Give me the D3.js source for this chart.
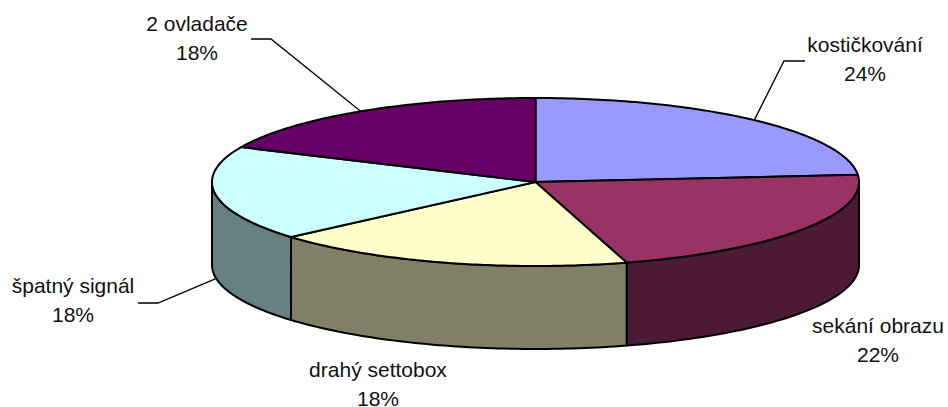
<!DOCTYPE html>
<html>
<head>
<meta charset="utf-8">
<script src="https://cdn.jsdelivr.net/npm/d3@7"></script>
<style>
  html, body { margin: 0; padding: 0; background: #fff; }
  text { font-family: "Liberation Sans", Arial, sans-serif; font-size: 21px; fill: #111; }
</style>
</head>
<body>
<svg id="pie"></svg>
<script>
const width = 948;
const height = 407;
const svg = d3.select("svg#pie").attr("width", width).attr("height", height)
  .style("display", "block");

// answers per category, the labels show the share
const categories = ["kostičkování", "sekání obrazu", "drahý settobox", "špatný signál", "2 ovladače"];
const counts = [13, 12, 10, 10, 10];
const topColors = ["#9999ff", "#993366", "#ffffcc", "#ccffff", "#660066"];
const wallColors = ["#4d4d80", "#4d1a33", "#808066", "#668080", "#330033"];

// Pie geometry
const cx = 535.5, cy = 182;
const rx = 323.5, ry = 84;
const depth = 83;

const total = d3.sum(counts);
const slices = d3.pie().sort(null).value(d => d)(counts);

// tilted circle: angle is clockwise from the top
const px = a => cx + rx * Math.sin(a);
const py = a => cy - ry * Math.cos(a);

const line = d3.line().x(d => d[0]).y(d => d[1]);

// side walls first, only the part facing the viewer
const walls = svg.append("g").attr("id", "walls");
slices.forEach(function(s, i) {
  const a0 = Math.max(s.startAngle, Math.PI / 2);
  const a1 = Math.min(s.endAngle, Math.PI * 1.5);
  if (a1 <= a0) return;
  const arc = d3.range(0, 61).map(k => a0 + (a1 - a0) * k / 60);
  const pts = arc.map(a => [px(a), py(a)])
    .concat(arc.slice().reverse().map(a => [px(a), py(a) + depth]));
  walls.append("path")
    .attr("d", line(pts) + "Z")
    .attr("fill", wallColors[i])
    .attr("stroke", "#000")
    .attr("stroke-width", 2)
    .attr("stroke-linejoin", "round");
});

// top face
const topFace = svg.append("g").attr("id", "top");
slices.forEach(function(s, i) {
  const n = 90;
  const pts = [[cx, cy]].concat(d3.range(0, n + 1).map(function(k) {
    const a = s.startAngle + (s.endAngle - s.startAngle) * k / n;
    return [px(a), py(a)];
  }));
  topFace.append("path")
    .attr("d", line(pts) + "Z")
    .attr("fill", topColors[i])
    .attr("stroke", "#000")
    .attr("stroke-width", 2)
    .attr("stroke-linejoin", "round");
});

// Labels, placed by hand like the original
const labelPos = [[865, 52], [878, 333], [378, 377], [73, 293], [197, 31]];
const labels = svg.append("g").attr("id", "labels");
categories.forEach(function(c, i) {
  const t = labels.append("text").attr("text-anchor", "middle");
  t.append("tspan").attr("x", labelPos[i][0]).attr("y", labelPos[i][1]).text(c);
  t.append("tspan").attr("x", labelPos[i][0]).attr("y", labelPos[i][1] + 29)
    .text(d3.format(".0f")(counts[i] / total * 100) + "%");
});

// Leader lines go from the middle of the slice to the label
const leaders = [
  { slice: 0, elbow: [784, 61], end: [805, 61], drop: 0 },
  { slice: 3, elbow: [158, 303], end: [138, 303], drop: 85 },
  { slice: 4, elbow: [271, 39], end: [251, 39], drop: 0 }
];
svg.append("g").attr("id", "leaders")
  .selectAll("path")
  .data(leaders)
  .enter()
  .append("path")
    .attr("d", function(d) {
      const s = slices[d.slice];
      const mid = (s.startAngle + s.endAngle) / 2;
      return line([[px(mid), py(mid) + d.drop], d.elbow, d.end]);
    })
    .attr("fill", "none")
    .attr("stroke", "#000")
    .attr("stroke-width", 1.3);
</script>
</body>
</html>
